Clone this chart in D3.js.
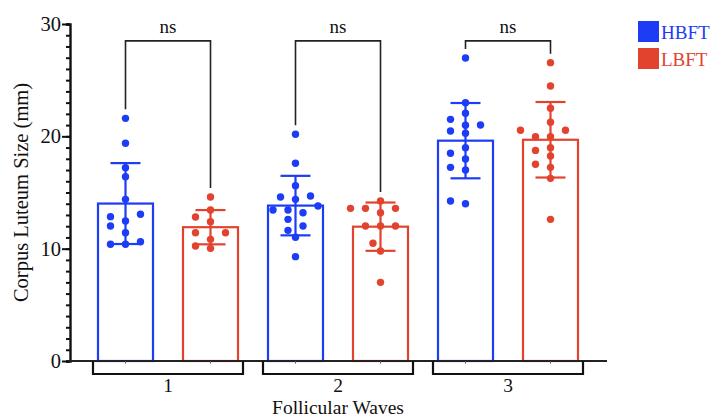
<!DOCTYPE html>
<html lang="en">
<head>
<meta charset="UTF-8">
<title>Corpus Luteum Size</title>
<script src="https://cdn.jsdelivr.net/npm/d3@7"></script>
<style>
  body { margin: 0; background: #fff; }
  text { font-family: "Liberation Serif", "Times New Roman", serif; }
</style>
</head>
<body>
<script>
// data
const waves = ["1", "2", "3"]
const groups = ["HBFT", "LBFT"]
const colours = ["#1c3cf5", "#e2432e"]
const hbft = [
  [21.6, 19.38, 17.21, 16.41, 14.39, 13.06, 12.85, 12.46, 12.02, 11.42, 10.39, 10.62, 10.39],
  [20.18, 17.6, 15.61, 14.6, 14.69, 14.39, 13.44, 13.8, 13.44, 13.2, 12.61, 12.02, 11.63, 11.01, 9.29],
  [26.97, 23.0, 22.05, 21.51, 21.01, 20.98, 20.27, 20.48, 18.99, 18.49, 17.98, 17.0, 17.24, 14.0, 14.24]
]
const lbft = [
  [14.6, 13.44, 12.82, 12.4, 11.42, 11.42, 10.83, 10.03, 10.24],
  [14.24, 13.59, 13.59, 13.59, 13.2, 12.02, 12.02, 12.02, 10.48, 9.79, 7.0],
  [26.56, 24.48, 22.5, 21.25, 20.54, 20.54, 19.97, 19.97, 18.99, 18.75, 18.25, 17.51, 17.24, 16.26, 12.61]
]
const sigLabels = ["ns", "ns", "ns"]
const yTicks = [0, 10, 20, 30]

const width = 712, height = 419
const svg = d3.select("body").append("svg").attr("width", width).attr("height", height)

const y = d3.scaleLinear().domain([0, 30]).range([361, 24])
const x = d3.scalePoint().domain(waves.flatMap(w => groups.map(g => w + "-" + g))).range([125.5, 550.5])
const barW = 55, capW = 30, r = 3.7

// one record per bar
const bars = []
waves.forEach((w, i) => {
  groups.forEach((g, j) => {
    const vals = (j === 0 ? hbft : lbft)[i]
    bars.push({wave: w, group: g, key: w + "-" + g, colour: colours[j], vals: vals,
      mean: d3.mean(vals), sd: d3.deviation(vals)})
  })
})

// bars
svg.append("g").selectAll("rect").data(bars).enter().append("rect")
  .attr("x", d => x(d.key) - barW / 2)
  .attr("y", d => y(d.mean))
  .attr("width", barW)
  .attr("height", d => y(0) - y(d.mean))
  .attr("fill", "none")
  .attr("stroke", d => d.colour)
  .attr("stroke-width", 2.2)

// error bars
const eb = svg.append("g").selectAll("g").data(bars).enter().append("g")
  .attr("stroke", d => d.colour).attr("stroke-width", 2.2)
eb.append("line").attr("x1", d => x(d.key)).attr("x2", d => x(d.key))
  .attr("y1", d => y(d.mean - d.sd)).attr("y2", d => y(d.mean + d.sd))
eb.append("line").attr("x1", d => x(d.key) - capW / 2).attr("x2", d => x(d.key) + capW / 2)
  .attr("y1", d => y(d.mean + d.sd)).attr("y2", d => y(d.mean + d.sd))
eb.append("line").attr("x1", d => x(d.key) - capW / 2).attr("x2", d => x(d.key) + capW / 2)
  .attr("y1", d => y(d.mean - d.sd)).attr("y2", d => y(d.mean - d.sd))

// simple column scatter: put each dot in the nearest free slot
function swarm(vals) {
  const placed = []
  const slots = [0]
  for (let k = 1; k <= 6; k++) slots.push(-7.5 * k, 7.5 * k)
  vals.slice().sort((a, b) => a - b).forEach(v => {
    const py = y(v)
    const dx = slots.find(s => placed.every(p => ((p.dx - s) / 15) ** 2 + ((p.py - py) / 8) ** 2 >= 0.99))
    placed.push({v: v, py: py, dx: dx})
  })
  return placed
}

bars.forEach(b => {
  svg.append("g").selectAll("circle").data(swarm(b.vals)).enter().append("circle")
    .attr("cx", d => x(b.key) + d.dx)
    .attr("cy", d => d.py)
    .attr("r", r)
    .attr("fill", b.colour)
})

// y axis
const yAxisMinor = d3.axisLeft(y).tickValues(d3.range(0, 31)).tickSize(4).tickFormat("")
svg.append("g").attr("transform", "translate(70,0)").call(yAxisMinor)
  .call(g => g.selectAll("line").attr("stroke", "#111").attr("stroke-width", 2))
  .call(g => g.select(".domain").attr("stroke", "#111").attr("stroke-width", 2.4))
const yAxisMajor = d3.axisLeft(y).tickValues(yTicks).tickSize(8).tickPadding(1)
svg.append("g").attr("transform", "translate(70,0)").call(yAxisMajor)
  .call(g => g.select(".domain").remove())
  .call(g => g.selectAll("line").attr("stroke", "#111").attr("stroke-width", 2))
  .call(g => g.selectAll("text").attr("font-size", 20.5).attr("fill", "#111")
    .attr("font-family", "Liberation Serif, serif"))

// x axis line with tiny ticks at bars
svg.append("line").attr("x1", 69).attr("x2", 607).attr("y1", y(0)).attr("y2", y(0))
  .attr("stroke", "#222").attr("stroke-width", 2)
svg.append("g").selectAll("line").data(bars).enter().append("line")
  .attr("x1", d => x(d.key)).attr("x2", d => x(d.key))
  .attr("y1", y(0)).attr("y2", y(0) + 2.5)
  .attr("stroke", "#555").attr("stroke-width", 1)

// group brackets under axis
const waveCentre = w => (x(w + "-" + groups[0]) + x(w + "-" + groups[1])) / 2
svg.append("g").selectAll("path").data(waves).enter().append("path")
  .attr("d", w => {
    const c = waveCentre(w)
    return `M${c - 75},${y(0)}V374H${c + 75}V${y(0)}`
  })
  .attr("fill", "none").attr("stroke", "#111").attr("stroke-width", 2.2)
svg.append("g").selectAll("text").data(waves).enter().append("text")
  .attr("x", w => waveCentre(w)).attr("y", 392)
  .attr("text-anchor", "middle").attr("font-size", 19.5).attr("fill", "#111")
  .text(w => w)

svg.append("text").attr("x", waveCentre(waves[1])).attr("y", 414)
  .attr("text-anchor", "middle").attr("font-size", 19.5).attr("fill", "#111")
  .text("Follicular Waves")

svg.append("text")
  .attr("transform", `translate(28,${(y(0) + y(30)) / 2}) rotate(-90)`)
  .attr("text-anchor", "middle").attr("font-size", 20.5).attr("fill", "#111")
  .text("Corpus Luteum Size (mm)")

// significance brackets
const sigY = y(28.5)
waves.forEach((w, i) => {
  const a = bars[i * 2], b = bars[i * 2 + 1]
  const xa = x(a.key), xb = x(b.key)
  svg.append("path")
    .attr("d", `M${xa},${y(d3.max(a.vals)) - 9}V${sigY}H${xb}V${y(d3.max(b.vals)) - 9}`)
    .attr("fill", "none").attr("stroke", "#222").attr("stroke-width", 1.6)
  svg.append("text").attr("x", (xa + xb) / 2).attr("y", sigY - 8)
    .attr("text-anchor", "middle").attr("font-size", 19).attr("fill", "#111")
    .text(sigLabels[i])
})

// legend
const legend = svg.append("g").attr("transform", "translate(638,21)")
const li = legend.selectAll("g").data(groups).enter().append("g")
  .attr("transform", (d, i) => `translate(0,${i * 27})`)
li.append("rect").attr("width", 21).attr("height", 21).attr("fill", (d, i) => colours[i])
li.append("text").attr("x", 23).attr("y", 18).attr("font-size", 19)
  .attr("fill", (d, i) => colours[i]).text(d => d)
</script>
</body>
</html>
